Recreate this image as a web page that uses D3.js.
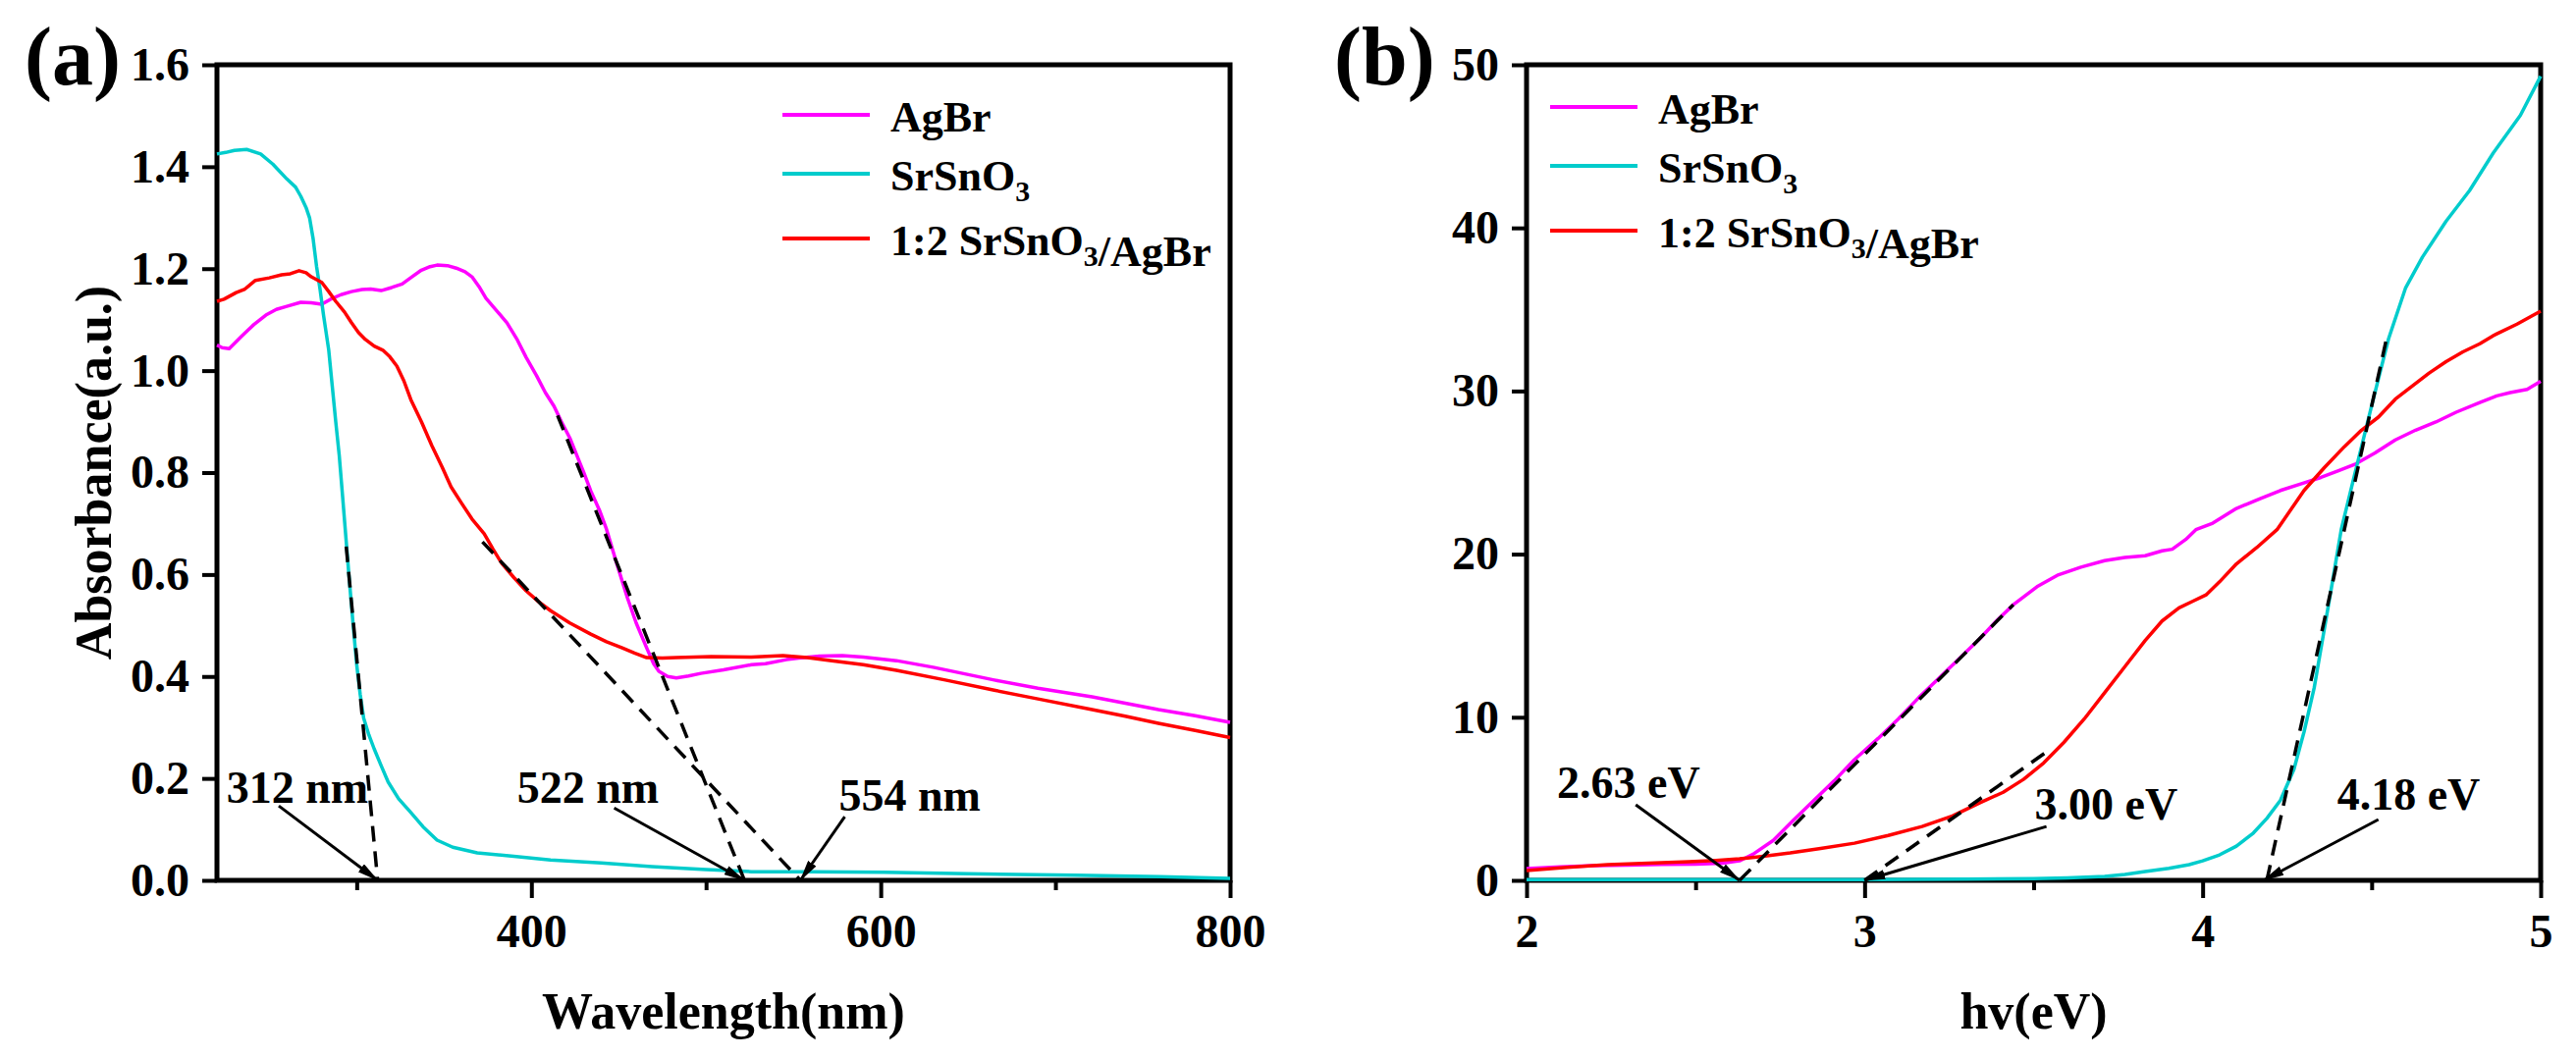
<!DOCTYPE html>
<html>
<head>
<meta charset="utf-8">
<script src="https://cdn.jsdelivr.net/npm/d3@7"></script>
<style>
    body { margin: 0; background: #fff; }
    text { font-family: "Liberation Serif", "Times New Roman", serif; font-weight: bold; fill: #000; }
</style>
</head>
<body>
<div id="chart-area"></div>
<script>
// ---- Data: panel (a) absorbance vs wavelength (nm) ----
var absAgBr = [[220,1.05],[223,1.045],[227,1.043],[234,1.067],[241,1.09],[248,1.109],[254,1.12],[260,1.126],[268,1.134],[274,1.133],[280,1.13],[285,1.14],[291,1.149],[297,1.155],[303,1.159],[308,1.16],[314,1.157],[320,1.163],[326,1.17],[332,1.185],[337,1.197],[342,1.204],[346,1.207],[352,1.206],[357,1.201],[362,1.194],[366,1.184],[370,1.165],[374,1.142],[380,1.118],[386,1.094],[392,1.06],[397,1.026],[403,0.99],[408,0.957],[413,0.93],[417,0.901],[422,0.868],[426,0.834],[430,0.8],[434,0.764],[439,0.726],[443,0.689],[449,0.62],[455,0.554],[460,0.505],[466,0.456],[470,0.425],[473,0.41],[478,0.4],[483,0.397],[490,0.401],[497,0.406],[510,0.413],[526,0.423],[534,0.425],[546,0.433],[553,0.436],[565,0.44],[578,0.441],[590,0.438],[609,0.431],[630,0.418],[665,0.393],[690,0.377],[721,0.36],[759,0.335],[780,0.323],[800,0.31]];
var absSrSnO3 = [[220,1.425],[225,1.428],[230,1.432],[237,1.434],[245,1.425],[252,1.405],[260,1.376],[265,1.36],[268,1.342],[271,1.32],[273,1.3],[275,1.26],[277,1.205],[279,1.16],[281,1.109],[284,1.04],[286,0.97],[288,0.9],[290,0.834],[292,0.75],[294,0.665],[296,0.58],[298,0.5],[300,0.423],[302,0.365],[304,0.318],[307,0.285],[310,0.258],[314,0.225],[318,0.193],[324,0.16],[331,0.133],[338,0.105],[346,0.079],[355,0.065],[369,0.054],[390,0.047],[411,0.04],[440,0.034],[469,0.027],[500,0.021],[526,0.017],[560,0.017],[602,0.016],[650,0.013],[711,0.01],[760,0.007],[800,0.004]];
var absComposite = [[220,1.136],[224,1.14],[231,1.153],[236,1.16],[242,1.177],[250,1.182],[257,1.188],[262,1.19],[267,1.196],[271,1.192],[274,1.184],[280,1.173],[284,1.155],[288,1.136],[293,1.115],[297,1.094],[301,1.075],[305,1.061],[310,1.048],[315,1.04],[319,1.027],[323,1.009],[327,0.98],[331,0.943],[337,0.9],[343,0.853],[349,0.81],[354,0.772],[360,0.74],[366,0.709],[373,0.68],[378,0.65],[383,0.622],[390,0.594],[397,0.568],[404,0.547],[411,0.529],[422,0.505],[434,0.483],[443,0.468],[452,0.456],[459,0.446],[466,0.437],[475,0.436],[483,0.437],[503,0.439],[526,0.438],[544,0.441],[558,0.437],[572,0.431],[590,0.423],[609,0.412],[637,0.393],[665,0.373],[690,0.356],[721,0.335],[740,0.322],[759,0.308],[780,0.294],[800,0.28]];

// tangent lines (a)
var fitsA = [[[294,0.655],[312,0]], [[415,0.912],[522,0]], [[372,0.664],[554,0]]];
// edge labels (a): text position, arrow start, arrow target
var notesA = [
    {label: "312 nm", tx: 225.5, ty: 0.152, ax: 255.4, ay: 0.146, at: 312},
    {label: "522 nm", tx: 391.8, ty: 0.152, ax: 447.4, ay: 0.142, at: 522},
    {label: "554 nm", tx: 576,   ty: 0.137, ax: 579.4, ay: 0.125, at: 554}
];

// ---- Data: panel (b) vs photon energy (eV) ----
var taucAgBr = [[2.0,0.72],[2.1,0.82],[2.2,0.9],[2.3,0.94],[2.4,0.98],[2.5,1.0],[2.58,1.05],[2.63,1.2],[2.67,1.6],[2.73,2.45],[2.79,3.7],[2.85,4.9],[2.91,6.1],[2.97,7.4],[3.04,8.7],[3.1,9.9],[3.16,11.2],[3.22,12.4],[3.28,13.6],[3.34,14.8],[3.39,15.9],[3.44,16.9],[3.51,18.0],[3.57,18.7],[3.64,19.2],[3.71,19.6],[3.77,19.8],[3.83,19.9],[3.88,20.2],[3.91,20.3],[3.95,20.9],[3.98,21.5],[4.03,21.9],[4.1,22.8],[4.17,23.4],[4.23,23.9],[4.29,24.3],[4.35,24.7],[4.4,25.1],[4.45,25.5],[4.51,26.2],[4.57,27.0],[4.63,27.6],[4.69,28.1],[4.75,28.7],[4.82,29.3],[4.87,29.7],[4.91,29.9],[4.96,30.1],[5.0,30.6]];
var taucSrSnO3 = [[2.0,0.05],[2.5,0.05],[3.0,0.05],[3.3,0.07],[3.5,0.1],[3.6,0.15],[3.71,0.24],[3.77,0.36],[3.83,0.54],[3.9,0.74],[3.96,0.96],[4.0,1.2],[4.05,1.56],[4.1,2.1],[4.15,2.9],[4.19,3.8],[4.23,4.9],[4.27,6.8],[4.3,9.1],[4.33,11.8],[4.35,14.2],[4.38,17.8],[4.41,21.5],[4.45,24.9],[4.5,29.1],[4.55,33.2],[4.6,36.3],[4.65,38.2],[4.72,40.4],[4.79,42.3],[4.86,44.6],[4.94,46.9],[5.0,49.3]];
var taucComposite = [[2.0,0.6],[2.12,0.8],[2.24,0.96],[2.36,1.05],[2.48,1.14],[2.56,1.22],[2.63,1.32],[2.7,1.48],[2.78,1.68],[2.87,1.95],[2.97,2.28],[3.07,2.75],[3.17,3.3],[3.26,3.95],[3.34,4.75],[3.41,5.4],[3.47,6.19],[3.53,7.2],[3.59,8.47],[3.65,9.9],[3.71,11.5],[3.77,13.1],[3.83,14.7],[3.88,15.9],[3.93,16.7],[3.97,17.1],[4.01,17.5],[4.05,18.3],[4.1,19.4],[4.16,20.4],[4.22,21.5],[4.3,23.9],[4.36,25.3],[4.42,26.6],[4.47,27.6],[4.52,28.4],[4.57,29.5],[4.62,30.3],[4.67,31.1],[4.72,31.8],[4.77,32.4],[4.82,32.9],[4.86,33.4],[4.93,34.1],[5.0,34.9]];

var fitsB = [[[2.63,0],[3.44,16.9]], [[3.0,0],[3.54,7.9]], [[4.19,0],[4.545,33.3]]];
var notesB = [
    {label: "2.63 eV", tx: 2.09,  ty: 5.05, ax: 2.323, ay: 4.63, at: 2.63},
    {label: "3.00 eV", tx: 3.503, ty: 3.73, ax: 3.538, ay: 3.3,  at: 3.0},
    {label: "4.18 eV", tx: 4.398, ty: 4.33, ax: 4.52,  ay: 3.73, at: 4.18}
];

// Legend + axes
var seriesNames = ["AgBr", "SrSnO3", "1:2 SrSnO3/AgBr"];
var seriesColors = ["#ff00ff", "#00cccc", "#ff0000"];
var ticksA = [400, 600, 800], minorA = [300, 500, 700];
var yTicksA = [0, 0.2, 0.4, 0.6, 0.8, 1.0, 1.2, 1.4, 1.6];
var ticksB = [2, 3, 4, 5], minorB = [2.5, 3.5, 4.5];
var yTicksB = [0, 10, 20, 30, 40, 50];

var width = 2624, height = 1078;

var svg = d3.select("#chart-area")
    .append("svg")
    .attr("width", width)
    .attr("height", height);

svg.append("defs").append("marker")
    .attr("id", "arrow")
    .attr("markerUnits", "userSpaceOnUse")
    .attr("viewBox", "0 0 22 10")
    .attr("markerWidth", 22).attr("markerHeight", 10)
    .attr("refX", 21).attr("refY", 5)
    .attr("orient", "auto")
    .append("path").attr("d", "M0,0L22,5L0,10Z").attr("fill", "#000");

// write a name, with the 3 of "O3" as a subscript
function writeName(sel, name, size) {
    var parts = name.split("O3");
    parts.forEach((p, i) => {
        sel.append("tspan").text(p + (i < parts.length - 1 ? "O" : ""));
        if (i < parts.length - 1) {
            sel.append("tspan").attr("dy", 11).attr("font-size", size * 0.68).text("3");
            sel.append("tspan").attr("dy", -11).text("");
        }
    });
}

function drawPanel(cfg) {
    var g = svg.append("g")
        .attr("transform", "translate(" + cfg.left + ", " + cfg.top + ")");
    var w = cfg.width, h = cfg.height;

    var x = d3.scaleLinear().domain(cfg.xDomain).range([0, w]);
    var y = d3.scaleLinear().domain(cfg.yDomain).range([h, 0]);

    // minor x ticks
    g.append("g")
        .attr("transform", "translate(0, " + h + ")")
        .call(d3.axisBottom(x).tickValues(cfg.xMinor).tickSize(10).tickFormat(""))
        .call(a => a.select(".domain").remove());
    // major x ticks
    var bottom = g.append("g")
        .attr("transform", "translate(0, " + h + ")")
        .call(d3.axisBottom(x).tickValues(cfg.xTicks).tickSize(18).tickFormat(d3.format("d")));
    bottom.select(".domain").remove();
    bottom.selectAll("text").attr("y", 68).attr("dy", null);

    var left = g.append("g")
        .call(d3.axisLeft(y).tickValues(cfg.yTicks).tickSize(15).tickFormat(cfg.yFormat));
    left.select(".domain").remove();
    left.selectAll("text").attr("x", -28);

    g.selectAll(".tick line").attr("stroke", "#000").attr("stroke-width", 4);
    g.selectAll(".tick text")
        .attr("font-size", "48px")
        .attr("font-family", "Liberation Serif, serif")
        .attr("font-weight", "bold")
        .attr("fill", "#000");

    // frame
    g.append("rect")
        .attr("width", w).attr("height", h)
        .attr("fill", "none").attr("stroke", "#000").attr("stroke-width", 5);

    // X axis label
    g.append("text")
        .attr("x", w / 2)
        .attr("y", 982)
        .attr("font-size", "52px")
        .attr("text-anchor", "middle")
        .text(cfg.xLabel);

    if (cfg.yLabel) {
        g.append("text")
            .attr("transform", "rotate(-90)")
            .attr("x", -h / 2)
            .attr("y", -108)
            .attr("font-size", "52px")
            .attr("text-anchor", "middle")
            .text(cfg.yLabel);
    }

    // panel tag
    g.append("text")
        .attr("x", cfg.tagX)
        .attr("y", 20)
        .attr("font-size", "84px")
        .text(cfg.tag);

    var line = d3.line().x(d => x(d[0])).y(d => y(d[1]));

    // curves
    cfg.series.forEach((s, i) => {
        g.append("path")
            .datum(s)
            .attr("d", line)
            .attr("fill", "none")
            .attr("stroke", seriesColors[i])
            .attr("stroke-width", 3.5)
            .attr("stroke-linejoin", "round");
    });

    // tangent lines
    cfg.fits.forEach((f) => {
        g.append("path")
            .datum(f)
            .attr("d", line)
            .attr("fill", "none")
            .attr("stroke", "#000")
            .attr("stroke-width", 3.5)
            .attr("stroke-dasharray", "16,10");
    });

    // edge labels with arrows
    cfg.notes.forEach((n) => {
        g.append("text")
            .attr("x", x(n.tx))
            .attr("y", y(n.ty))
            .attr("font-size", "46px")
            .text(n.label);
        g.append("line")
            .attr("x1", x(n.ax)).attr("y1", y(n.ay))
            .attr("x2", x(n.at)).attr("y2", y(0))
            .attr("stroke", "#000")
            .attr("stroke-width", 3)
            .attr("marker-end", "url(#arrow)");
    });

    // legend
    var lg = g.append("g").attr("transform", "translate(" + cfg.legendX + ", 0)");
    seriesNames.forEach((name, i) => {
        var ly = cfg.legendY[i];
        lg.append("line")
            .attr("x1", 0).attr("x2", 89)
            .attr("y1", ly).attr("y2", ly)
            .attr("stroke", seriesColors[i])
            .attr("stroke-width", 4);
        var t = lg.append("text")
            .attr("x", 110)
            .attr("y", ly + 17)
            .attr("font-size", "44px");
        writeName(t, name, 44);
    });
}

drawPanel({
    left: 221, top: 66, width: 1032, height: 831,
    xDomain: [220, 800], yDomain: [0, 1.6],
    xTicks: ticksA, xMinor: minorA, yTicks: yTicksA, yFormat: d3.format(".1f"),
    xLabel: "Wavelength(nm)", yLabel: "Absorbance(a.u.)",
    tag: "(a)", tagX: -196,
    series: [absAgBr, absSrSnO3, absComposite],
    fits: fitsA, notes: notesA,
    legendX: 576, legendY: [51, 111, 177]
});

drawPanel({
    left: 1555, top: 66, width: 1033, height: 831,
    xDomain: [2, 5], yDomain: [0, 50],
    xTicks: ticksB, xMinor: minorB, yTicks: yTicksB, yFormat: d3.format("d"),
    xLabel: "hv(eV)", yLabel: null,
    tag: "(b)", tagX: -196,
    series: [taucAgBr, taucSrSnO3, taucComposite],
    fits: fitsB, notes: notesB,
    legendX: 24, legendY: [43, 103, 169]
});
</script>
</body>
</html>
